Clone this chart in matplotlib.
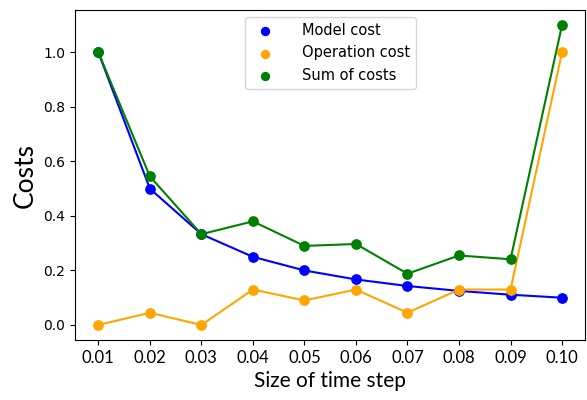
import matplotlib.pyplot as plt

# Data
time_steps = [0.01, 0.02, 0.03, 0.04, 0.05, 0.06, 0.07, 0.08, 0.09, 0.10]
tick_labels = ["0.01", "0.02", "0.03", "0.04", "0.05", "0.06", "0.07", "0.08", "0.09", "0.10"]
model_cost = [1.0, 0.5, 0.333, 0.25, 0.2, 0.167, 0.143, 0.125, 0.111, 0.1]
operation_cost = [0.0, 0.045, 0.0, 0.13, 0.09, 0.13, 0.045, 0.13, 0.13, 1.0]
sum_of_costs = [1.0, 0.545, 0.333, 0.38, 0.29, 0.297, 0.188, 0.255, 0.241, 1.1]

label_font = ["Lato", "DejaVu Sans"]

fig = plt.figure(figsize=(5.87, 4.0), dpi=100)
ax = fig.add_axes([0.128, 0.15, 0.869, 0.825])

series = [
    (model_cost, "blue", "Model cost"),
    (operation_cost, "orange", "Operation cost"),
    (sum_of_costs, "green", "Sum of costs"),
]
for values, color, label in series:
    ax.plot(time_steps, values, color=color, linewidth=1.5)
    ax.scatter(time_steps, values, color=color, s=45, zorder=3, label=label)

ax.set_xticks(time_steps)
ax.set_xticklabels(tick_labels, family=label_font, fontsize=12)
ax.set_xlabel("Size of time step", family=label_font, fontsize=15)
ax.set_ylabel("Costs", family=label_font, fontsize=19)
ax.tick_params(axis="y", labelsize=10)

ax.legend(loc="upper center", fontsize=10.5, markerscale=0.85, handletextpad=1.5)

fig.savefig("out.png")
